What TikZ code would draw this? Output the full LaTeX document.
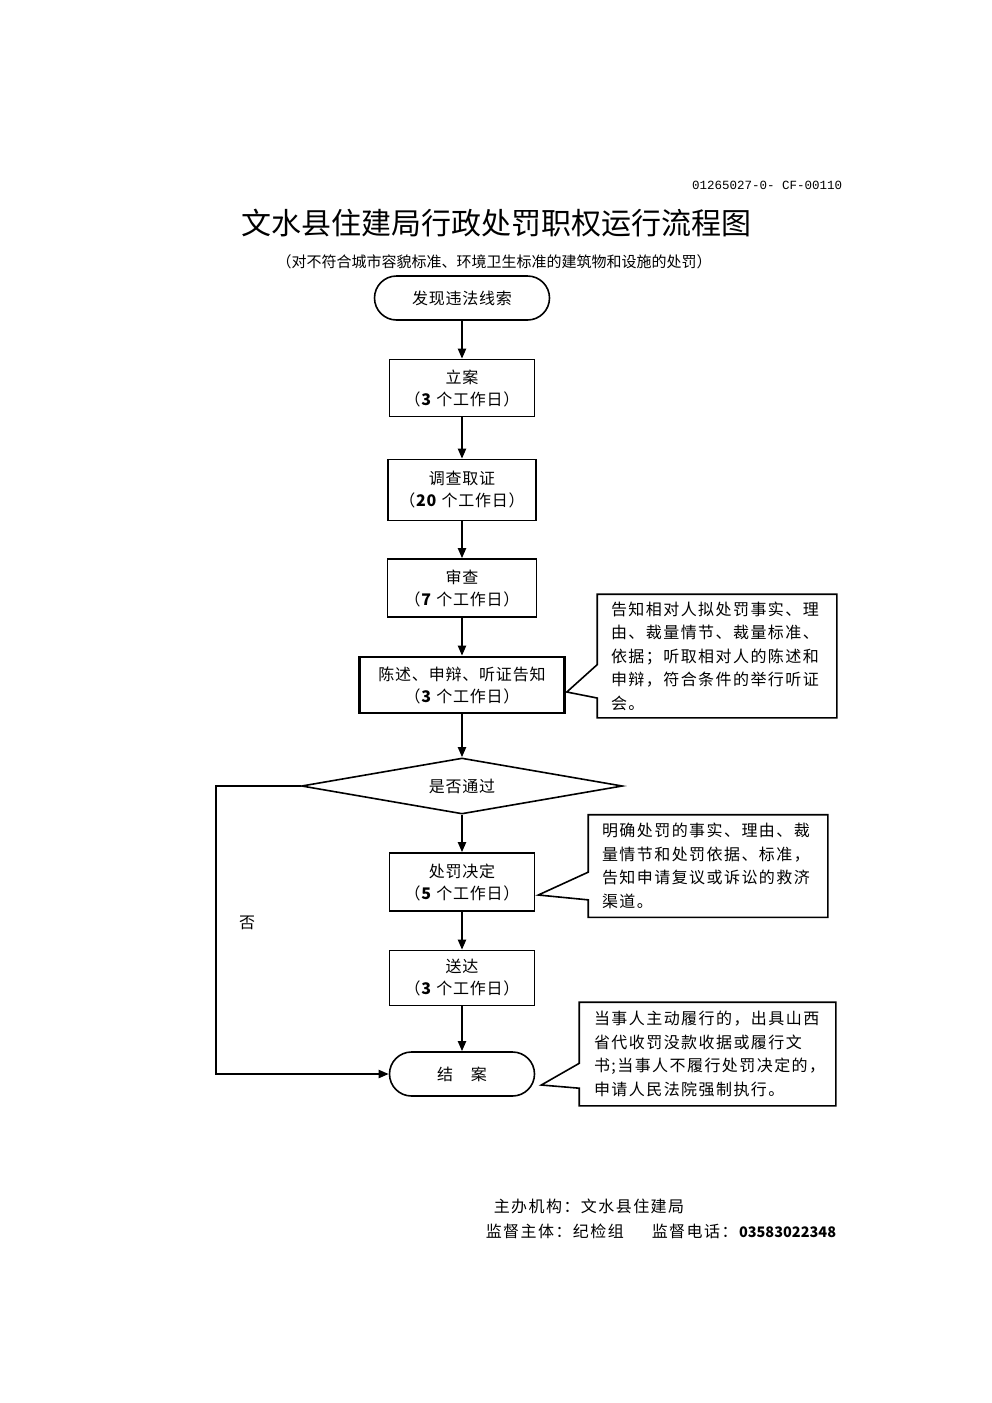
\documentclass[tikz,border=0pt]{standalone}
\usepackage{fontspec}
\setmainfont{Noto Sans CJK SC}
\newfontfamily\codefont{Liberation Mono}
\newfontfamily\widefont[LetterSpace=9]{Noto Sans CJK SC}
\newfontfamily\midfont[LetterSpace=5]{Noto Sans CJK SC}
\usetikzlibrary{arrows.meta,shapes.geometric,calc}
\begin{document}
\begin{tikzpicture}[x=1pt, y=-1pt, line width=1.6pt, >={Triangle[length=10pt,width=8pt]},
box node/.style={rectangle,draw,align=center,minimum height=57pt,inner sep=0pt,font=\midfont\fontsize{16}{22}\selectfont},
end node/.style={rectangle,rounded corners=22pt,draw,minimum height=44pt,inner sep=0pt,font=\midfont\fontsize{16}{22}\selectfont},
test node/.style={diamond,draw,aspect=5.7,minimum width=321pt,minimum height=56pt,inner sep=0pt,font=\midfont\fontsize{16}{22}\selectfont},
note node/.style={rectangle,align=left,inner sep=0pt,font=\widefont\fontsize{16}{23.5}\selectfont},
text node/.style={inner sep=0pt,font=\widefont\fontsize{16}{22}\selectfont}]
\path[fill=white] (0,0) rectangle (992,1403);
\useasboundingbox (0,0) rectangle (992,1403);
\begin{scope}
\node[anchor=east,inner sep=0pt,font=\codefont\fontsize{12.5}{14}\selectfont] (code) at (843,185) {01265027-0- CF-00110};
\node[inner sep=0pt,font=\fontsize{30}{34}\selectfont] (title) at (496,223) {文水县住建局行政处罚职权运行流程图};
\node[inner sep=0pt,font=\fontsize{15}{18}\selectfont] (sub) at (494,262) {（对不符合城市容貌标准、环境卫生标准的建筑物和设施的处罚）};
\node[end node,minimum width=175pt] (s) at (462,298) {发现违法线索};
\node[box node,minimum width=145pt] (la) at (462,388) {立案\\（\textbf{3} 个工作日）};
\node[box node,minimum width=148pt,minimum height=61pt] (dc) at (462,490) {调查取证\\（\textbf{20} 个工作日）};
\node[box node,minimum width=149pt,minimum height=58pt] (sc) at (462,588) {审查\\（\textbf{7} 个工作日）};
\node[box node,minimum width=205pt,minimum height=56pt,line width=2.6pt] (ch) at (462,685) {陈述、申辩、听证告知\\（\textbf{3} 个工作日）};
\node[test node] (d) at (462,786) {是否通过};
\node[box node,minimum width=145pt,minimum height=58pt] (pf) at (462,882) {处罚决定\\（\textbf{5} 个工作日）};
\node[box node,minimum width=145pt,minimum height=55pt] (sd) at (462,978) {送达\\（\textbf{3} 个工作日）};
\node[end node,minimum width=145pt] (ja) at (462,1074) {结　案};
\node[text node] (no) at (247,923) {否};
\node[note node,minimum width=238pt,minimum height=122pt,text width=212pt] (n1) at (717,656) {告知相对人拟处罚事实、理\\由、裁量情节、裁量标准、\\依据；听取相对人的陈述和\\申辩，符合条件的举行听证\\会。};
\node[note node,minimum width=238pt,minimum height=101pt,text width=212pt] (n2) at (708,866) {明确处罚的事实、理由、裁\\量情节和处罚依据、标准，\\告知申请复议或诉讼的救济\\渠道。};
\node[note node,minimum width=255pt,minimum height=102pt,text width=227pt] (n3) at (707.5,1054) {当事人主动履行的，出具山西\\省代收罚没款收据或履行文\\书;当事人不履行处罚决定的，\\申请人民法院强制执行。};
\node[text node,anchor=west] (org) at (493,1206) {主办机构：文水县住建局};
\node[text node,anchor=west] (sup) at (485,1231) {监督主体：纪检组};
\node[text node,anchor=west] (tel) at (651,1231) {监督电话：{\fontspec{Noto Sans CJK SC}\fontsize{14.5}{22}\selectfont\textbf{03583022348}}};
\end{scope}
\begin{scope}
\coordinate (t1) at ($(ch.east)+(1,7)$);
\coordinate (t2) at ($(pf.east)+(3,13)$);
\coordinate (t3) at ($(ja.east)+(6,11)$);
\draw (n1.north west) -- (n1.north east) -- (n1.south east) -- (n1.south west) -- ($(n1.north west)!0.84!(n1.south west)$) -- (t1) -- ($(n1.north west)!0.57!(n1.south west)$) -- cycle;
\draw (n2.north west) -- (n2.north east) -- (n2.south east) -- (n2.south west) -- ($(n2.north west)!0.83!(n2.south west)$) -- (t2) -- ($(n2.north west)!0.56!(n2.south west)$) -- cycle;
\draw (n3.north west) -- (n3.north east) -- (n3.south east) -- (n3.south west) -- ($(n3.north west)!0.83!(n3.south west)$) -- (t3) -- ($(n3.north west)!0.59!(n3.south west)$) -- cycle;
\end{scope}
\begin{scope}[line width=2pt]
\draw[->] (s) -- (la);
\draw[->] (la) -- (dc);
\draw[->] (dc) -- (sc);
\draw[->] (sc) -- (ch);
\draw[->] (ch) -- (d);
\draw[->] (d) -- (pf);
\draw[->] (pf) -- (sd);
\draw[->] (sd) -- (ja);
\draw[->] (d.west) -- ++(-85,0) |- (ja.west);
\end{scope}
\end{tikzpicture}
\end{document}
